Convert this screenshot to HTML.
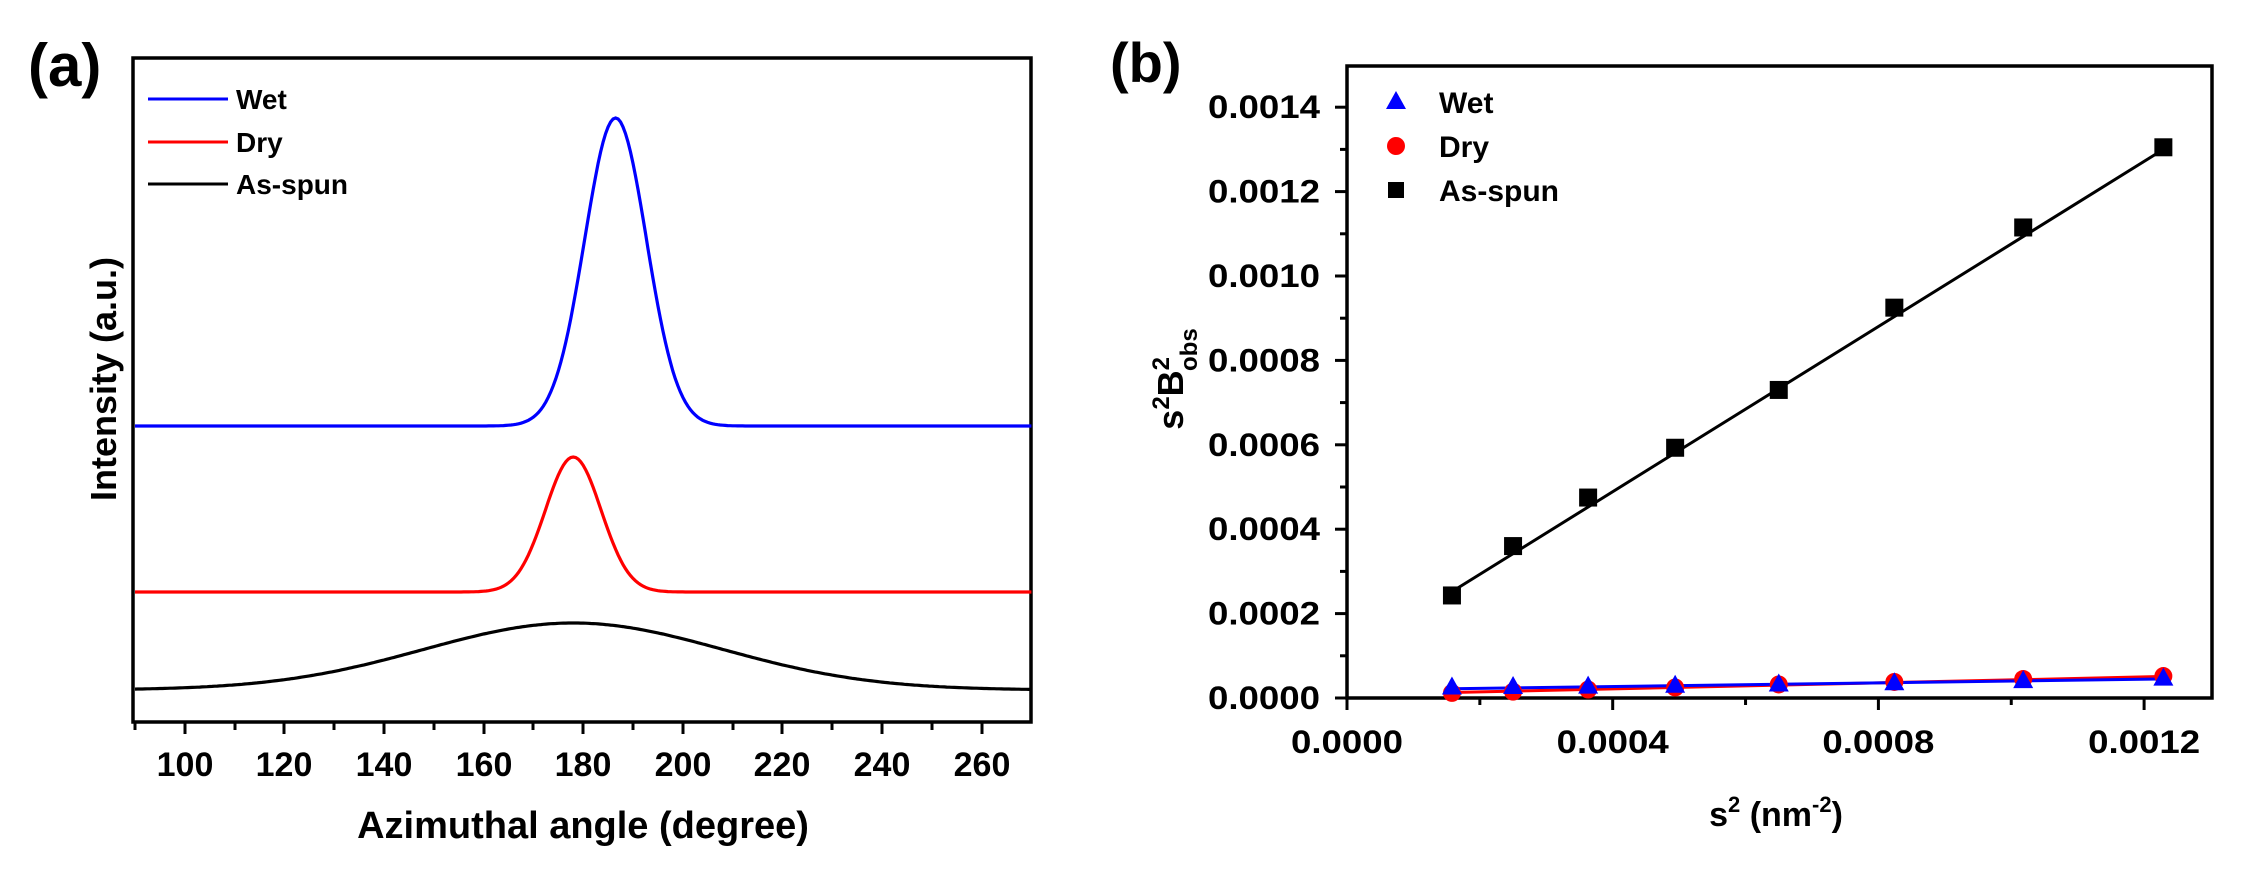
<!DOCTYPE html>
<html><head><meta charset="utf-8"><style>
html,body{margin:0;padding:0;background:#fff;}
svg{display:block;}
text{font-family:"Liberation Sans",Arial,sans-serif;font-weight:bold;fill:#000;}
</style></head><body>
<svg width="2261" height="874" viewBox="0 0 2261 874" xmlns="http://www.w3.org/2000/svg">
<!-- Panel a -->
<text x="28" y="86" font-size="60">(a)</text>
<rect x="133" y="58" width="898" height="664" fill="none" stroke="#000" stroke-width="3.5"/>
<g stroke="#000" stroke-width="3">
<line x1="135" y1="722" x2="135" y2="730"/>
<line x1="185" y1="722" x2="185" y2="734"/>
<line x1="235" y1="722" x2="235" y2="730"/>
<line x1="284" y1="722" x2="284" y2="734"/>
<line x1="334" y1="722" x2="334" y2="730"/>
<line x1="384" y1="722" x2="384" y2="734"/>
<line x1="434" y1="722" x2="434" y2="730"/>
<line x1="484" y1="722" x2="484" y2="734"/>
<line x1="533" y1="722" x2="533" y2="730"/>
<line x1="583" y1="722" x2="583" y2="734"/>
<line x1="633" y1="722" x2="633" y2="730"/>
<line x1="683" y1="722" x2="683" y2="734"/>
<line x1="733" y1="722" x2="733" y2="730"/>
<line x1="782" y1="722" x2="782" y2="734"/>
<line x1="832" y1="722" x2="832" y2="730"/>
<line x1="882" y1="722" x2="882" y2="734"/>
<line x1="932" y1="722" x2="932" y2="730"/>
<line x1="982" y1="722" x2="982" y2="734"/>
</g>
<g font-size="34" text-anchor="middle">
<text x="185" y="776">100</text><text x="284" y="776">120</text><text x="384" y="776">140</text>
<text x="484" y="776">160</text><text x="583" y="776">180</text><text x="683" y="776">200</text>
<text x="782" y="776">220</text><text x="882" y="776">240</text><text x="982" y="776">260</text>
</g>
<text x="583" y="838" font-size="38" text-anchor="middle">Azimuthal angle (degree)</text>
<text transform="translate(116,379) rotate(-90)" font-size="36" text-anchor="middle">Intensity (a.u.)</text>
<g stroke-width="3">
<line x1="148" y1="99" x2="228" y2="99" stroke="#0000ff"/>
<line x1="148" y1="142" x2="228" y2="142" stroke="#ff0000"/>
<line x1="148" y1="184" x2="228" y2="184" stroke="#000"/>
</g>
<g font-size="28">
<text x="236" y="109">Wet</text><text x="236" y="152">Dry</text><text x="236" y="194">As-spun</text>
</g>
<g fill="none" stroke-width="3.2" id="curves"></g>
<!-- Panel b -->
<text x="1110" y="82" font-size="56">(b)</text>
<rect x="1347" y="66" width="865" height="632" fill="none" stroke="#000" stroke-width="3.5"/>
<g id="bticks" stroke="#000" stroke-width="3"></g>
<g font-size="32" text-anchor="end" id="ylab"></g>
<g font-size="32" text-anchor="middle" id="xlab"></g>
<text x="1776" y="826" font-size="34" text-anchor="middle">s<tspan font-size="22" dy="-14">2</tspan><tspan dy="14"> (nm</tspan><tspan font-size="22" dy="-14">-2</tspan><tspan dy="14">)</tspan></text>
<text transform="translate(1183,379) rotate(-90)" font-size="36" text-anchor="middle">s<tspan font-size="24" dy="-14">2</tspan><tspan dy="14">B</tspan><tspan font-size="24" dy="-14">2</tspan><tspan font-size="24" dx="-14" dy="28">obs</tspan></text>
<g id="bdata"></g>
<polygon points="1396,91 1386,109 1406,109" fill="#0000ff"/>
<circle cx="1396" cy="146" r="9" fill="#ff0000"/>
<rect x="1388" y="182" width="16" height="16" fill="#000"/>
<g font-size="30">
<text x="1439" y="113">Wet</text><text x="1439" y="157">Dry</text><text x="1439" y="201">As-spun</text>
</g>
</svg>
<script>
const NS="http://www.w3.org/2000/svg";
function el(p,t,a){const e=document.createElementNS(NS,t);for(const k in a)e.setAttribute(k,a[k]);p.appendChild(e);return e;}
// panel a curves
const cg=document.getElementById('curves');
function X(d){return 135+(d-90)*4.98;}
function curve(base,h,mu,s,col,off){let p=[];for(let d=90;d<=270;d+=0.5){let y=base-h*Math.exp(-((d-mu)**2)/(2*s*s))+(off?off(d):0);p.push(X(d).toFixed(1)+","+y.toFixed(1));}el(cg,'polyline',{points:p.join(' '),stroke:col});}
curve(426,308,186.5,6.2,'#0000ff');
curve(592,135,178,5.6,'#ff0000');
curve(690,67,178,30,'#000');
// panel b
const bt=document.getElementById('bticks'),yl=document.getElementById('ylab'),xl=document.getElementById('xlab');
function BX(v){return 1347+v/0.0004*265.7;}
function BY(v){return 698-v/0.0002*84.4;}
for(let i=0;i<=14;i++){let y=BY(i*0.0001);let maj=i%2==0;el(bt,'line',{x1:1347,y1:y,x2:maj?1335:1340,y2:y});
 if(maj){const t=el(yl,'text',{x:1320,y:y+11,textLength:112,lengthAdjust:'spacingAndGlyphs'});t.textContent=(i*0.0001).toFixed(4);}}
for(let i=0;i<=6;i++){let x=BX(i*0.0002);let maj=i%2==0;el(bt,'line',{x1:x,y1:698,x2:x,y2:maj?710:705});
 if(maj){const t=el(xl,'text',{x:x,y:753,textLength:112,lengthAdjust:'spacingAndGlyphs'});t.textContent=(i*0.0002).toFixed(4);}}
const bd=document.getElementById('bdata');
const xs=[0.000158,0.00025,0.000363,0.000494,0.00065,0.000824,0.001018,0.001229];
const as=[0.000243,0.00036,0.000475,0.000593,0.00073,0.000925,0.001115,0.001305];
const dry=[0.000012,0.000015,0.00002,0.000025,0.000032,0.000038,0.000045,0.000052];
const wet=[0.000025,0.000026,0.000027,0.000029,0.000032,0.000035,0.00004,0.000046];
el(bd,'line',{x1:BX(0.000158),y1:BY(0.000252),x2:BX(0.001229),y2:BY(0.0013),stroke:'#000','stroke-width':3});
el(bd,'line',{x1:BX(0.000158),y1:BY(0.000013),x2:BX(0.001229),y2:BY(0.000051),stroke:'#ff0000','stroke-width':3});
el(bd,'line',{x1:BX(0.000158),y1:BY(0.000022),x2:BX(0.001229),y2:BY(0.000045),stroke:'#0000ff','stroke-width':3});
xs.forEach((x,i)=>{const cx=BX(x);
 el(bd,'rect',{x:cx-9,y:BY(as[i])-9,width:18,height:18,fill:'#000'});
 el(bd,'circle',{cx:cx,cy:BY(dry[i]),r:9,fill:'#ff0000'});
 const cy=BY(wet[i]);el(bd,'polygon',{points:`${cx},${cy-11} ${cx-10},${cy+7} ${cx+10},${cy+7}`,fill:'#0000ff'});
});
</script>
</body></html>
